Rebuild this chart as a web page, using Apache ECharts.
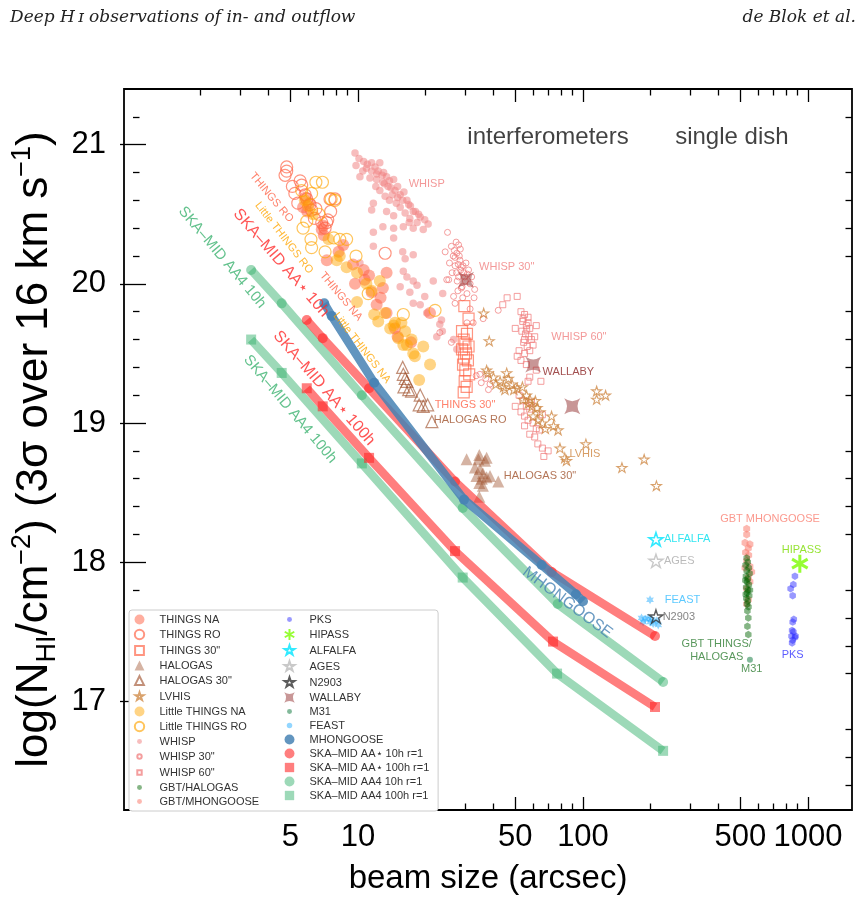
<!DOCTYPE html>
<html>
<head>
<meta charset="utf-8">
<script src="https://cdn.jsdelivr.net/npm/echarts@6/dist/echarts.min.js"></script>
<style>html,body{margin:0;background:#fff}#chart{width:868px;height:903px}</style>
</head>
<body>
<div id="chart"></div>
<script>
// beam size (arcsec) vs log N_HI
const thingsNA = [[5.7,20.55],[5.95,20.52],[6.1,20.58],[6.9,20.39],[7.05,20.35],[7.27,20.17],[8.2,20.23],[9.5,20.14],[10.6,20.1],[10.7,20.03],[9.7,20.0],[13.4,20.08],[12.9,19.97],[11.5,19.94],[13.4,19.79],[12.1,19.85],[14.6,19.68],[20.9,19.79],[11.2,20.06],[12.6,19.9],[8.6,20.28],[15.0,19.62],[17.2,19.58],[5.85,20.62],[7.0,20.42]];
const thingsRO = [[4.82,20.84],[4.82,20.81],[4.74,20.78],[5.53,20.74],[5.62,20.71],[5.11,20.7],[5.24,20.65],[5.82,20.64],[5.92,20.61],[6.12,20.57],[6.22,20.53],[6.5,20.54],[7.51,20.61],[7.9,20.61],[7.56,20.52],[7.34,20.46],[6.9,20.44],[7.26,20.44],[6.4,20.47],[7.14,20.4],[13.2,20.22],[5.4,20.58]];
const things30 = [[29.7,19.84],[31,19.75],[29,19.66],[30.5,19.64],[29.5,19.6],[30,19.57],[31,19.55],[29,19.53],[30.2,19.5],[29.6,19.47],[30.8,19.45],[29.3,19.42],[30,19.38],[31.2,19.35],[29.8,19.3],[30.4,19.26],[29.5,19.22]];
const halogas = [[30.4,18.74],[34.6,18.77],[34.3,18.74],[36.7,18.73],[37.3,18.75],[33.1,18.68],[34.8,18.67],[35.9,18.64],[33.6,18.62],[35.5,18.6],[37.3,18.61],[38.6,18.62],[34.6,18.57],[35.9,18.55],[42,18.58],[34.6,18.47]];
const halogas30 = [[15.8,19.4],[15.9,19.35],[16.2,19.32],[16.5,19.3],[16,19.26],[16.8,19.24],[17.3,19.23],[18.9,19.2],[18.7,19.13],[19.5,19.12],[20.4,19.13],[21.3,19.01]];
const lvhis = [[36.2,19.79],[38.3,19.59],[37.3,19.38],[37.9,19.36],[45.8,19.36],[46.6,19.32],[42.8,19.3],[44.4,19.26],[48.4,19.28],[49.3,19.24],[51,19.25],[53.8,19.26],[45,19.24],[56.1,19.2],[58.1,19.17],[54.2,19.17],[61.4,19.16],[59.3,19.12],[62.5,19.11],[64.4,19.08],[57,19.14],[60,19.05],[63,19.02],[66,19.0],[68,18.96],[72.5,19.05],[74,18.98],[77.5,18.95],[79,18.82],[83,18.75],[84.5,18.73],[103,18.85],[115,19.23],[115,19.17],[126,19.2],[149,18.68],[187,18.74],[212,18.55],[40,19.33],[41,19.28]];
const littleNA = [[5.8,20.6],[6.0,20.56],[6.3,20.5],[7.4,20.32],[8.05,20.17],[8.3,20.2],[8.9,20.12],[9.9,20.08],[10.9,20.0],[9.9,19.87],[11.5,19.95],[12.5,20.02],[11.8,19.78],[13.2,19.79],[12.3,19.73],[14.6,19.72],[13.9,19.68],[15.6,19.72],[14.4,19.7],[15.1,19.61],[16.2,19.66],[15.9,19.56],[17.3,19.6],[16.5,19.56],[17.6,19.5],[19.5,19.55],[17.9,19.48],[20.9,19.42],[18.7,19.31]];
const littleRO = [[6.5,20.73],[6.95,20.73],[6.22,20.65],[5.62,20.67],[7.6,20.61],[7.9,20.6],[5.92,20.45],[7.8,20.33],[6.18,20.32],[6.22,20.26],[7.14,20.23],[8.3,20.32],[8.9,20.32],[9.8,20.2],[11.1,19.93],[15.9,19.78],[22.0,19.81],[5.7,20.4],[6.7,20.5]];
const whisp = [[9.7,20.94],[10.6,20.88],[9.8,20.85],[11.5,20.87],[12.5,20.87],[10.9,20.83],[11.5,20.81],[12.1,20.79],[12.8,20.78],[10.2,20.77],[11.3,20.76],[12.1,20.75],[12.9,20.73],[13.4,20.77],[14.4,20.75],[13.6,20.7],[14.6,20.67],[15.4,20.64],[12.5,20.67],[13.2,20.63],[16.5,20.6],[16.8,20.57],[17.6,20.52],[15.4,20.55],[16.2,20.51],[18.9,20.48],[19.8,20.46],[17.0,20.47],[18.3,20.44],[11.7,20.58],[11.5,20.53],[13.4,20.52],[14.4,20.49],[12.9,20.41],[14.4,20.4],[15.9,20.41],[17.6,20.4],[19.5,20.39],[14.4,20.33],[11.7,20.27],[15.8,20.23],[16.2,20.18],[17.6,20.21],[15.9,20.09],[16.5,20.05],[17.6,20.02],[15.4,19.98],[17.0,19.94],[18.3,19.99],[19.8,19.91],[18.9,19.85],[20.2,19.79],[23.1,19.71],[23.7,19.66],[22.4,19.62],[26.6,19.6],[27.5,19.53],[11.7,20.37],[21.6,20.02],[23.8,19.93],[23.5,19.74],[17.6,19.86],[13.8,20.6],[15.0,20.7],[10.2,20.15],[10.1,20.9],[11.0,20.86],[11.9,20.84],[12.3,20.81],[13.0,20.8],[13.8,20.74],[14.0,20.69],[15.0,20.62],[15.8,20.6],[16.0,20.66],[17.1,20.56],[18.0,20.52],[18.6,20.5],[14.8,20.58],[12.0,20.7],[13.1,20.72],[16.9,20.44],[20.5,20.43],[10.5,20.81],[14.2,20.64]];
const whisp30 = [[26.0,20.27],[27.5,20.22],[28.4,20.17],[28.8,20.12],[29.5,20.08],[27.0,20.13],[28.0,20.05],[30.0,20.02],[29.0,19.98],[31.5,20.0],[27.8,19.95],[30.5,19.93],[26.5,20.2],[25.5,20.15],[31.0,20.1],[32.0,20.05],[33.0,19.96],[29.2,19.9],[27.3,20.3],[25.0,20.37],[24.4,20.23],[25.3,20.03],[26.6,19.91],[24.8,20.03],[27.0,19.86],[32.8,19.9],[42.0,19.81],[23.1,19.65],[26.0,19.58],[30.5,19.72],[32.5,19.72],[34.8,19.35],[37.0,19.32],[35.3,19.29],[38.6,19.28],[38.0,19.24],[33.5,19.34],[28.5,20.25],[30.2,20.15],[26.2,20.08],[31.5,19.82],[36,19.75],[27.0,20.19],[27.9,20.14],[28.6,20.1],[27.4,20.08],[28.2,20.2],[29.3,20.13],[26.8,20.24],[28.0,20.28],[29.8,20.05],[27.6,20.02],[28.8,19.97],[30.6,20.07]];
const whisp60 = [[53,19.8],[55,19.78],[57,19.76],[54,19.73],[56,19.7],[58,19.68],[53.5,19.66],[55.5,19.64],[57.5,19.62],[59,19.6],[54.5,19.58],[56.5,19.55],[52,19.52],[55,19.5],[58,19.52],[60,19.56],[53,19.45],[56,19.42],[51,19.48],[61,19.62],[62,19.7],[50,19.68],[58,19.33],[57,19.3],[52,19.2],[54,19.16],[56,19.12],[53,19.08],[55,19.05],[58,19.1],[57,19.02],[60,19.0],[62,18.96],[55,18.98],[58,18.92],[61,18.9],[64,18.95],[66,19.06],[50,19.12],[59,19.15],[63,18.85],[66,18.82],[67,18.76],[70,18.8],[46,19.9],[51,19.91],[44,19.85],[65,19.3],[62,19.38],[54.2,19.75],[56.2,19.67],[55.0,19.6],[57.0,19.72]];
const gbtHalogas = [[534,18.03],[540,18.0],[528,17.98],[545,17.96],[534,17.94],[550,17.92],[530,17.9],[540,17.88],[536,17.86],[546,17.84],[531,17.82],[541,17.8],[536,17.78],[548,17.76],[532,17.74],[540,17.72],[536,17.7],[544,17.68],[538,17.65],[543,17.6],[538,17.54],[543,17.48],[527,17.87],[552,17.8],[529,17.77]];
const gbtMhongoose = [[534,18.24],[534,18.2],[525,18.14],[552,18.13],[543,18.1],[534,18.01],[552,17.97],[525,17.96],[562,17.93],[543,17.89],[552,17.86],[534,17.81],[543,17.73],[534,17.7],[545,18.05],[528,18.07]];
const pks = [[875,17.9],[861,17.84],[837,17.81],[855,17.76],[865,17.59],[855,17.57],[850,17.51],[861,17.5],[845,17.47],[875,17.46],[855,17.44],[880,17.47],[850,17.42]];
const hipass = [[920,17.99]];
const alfalfa = [[211,18.165]];
const ages = [[211,18.01]];
const n2903 = [[211,17.61]];
const wallaby = [[30.2,20.03],[60.1,19.42],[89.6,19.12]];
const m31 = [[552,17.3]];
const feast = [[198.6,17.73],[182,17.6],[189,17.59],[195,17.6],[199,17.57],[205,17.56],[213,17.58],[216,17.55],[185,17.57],[202,17.59]];
const mhongoose = [[7.08,19.86],[7.64,19.77],[11.8,19.29],[29.6,18.45],[65.5,17.98],[93,17.77],[100,17.72]];
const skaAAs10 = [[5.92,19.74],[6.97,19.61],[11.2,19.25],[27.0,18.58],[72.6,17.93],[209,17.47]];
const skaAAs100 = [[5.92,19.25],[6.97,19.12],[11.2,18.75],[27.0,18.08],[73.6,17.43],[209,16.96]];
const skaAA4_10 = [[3.35,20.10],[4.58,19.86],[10.4,19.2],[29.2,18.39],[77.2,17.70],[227,17.14]];
const skaAA4_100 = [[3.35,19.60],[4.58,19.36],[10.4,18.71],[29.2,17.89],[76.7,17.20],[227,16.645]];

const xMajor = [5, 10, 50, 100, 500, 1000];
const xMinor = [2, 3, 4, 6, 7, 8, 9, 20, 30, 40, 60, 70, 80, 90, 200, 300, 400, 600, 700, 800, 900];
const yMajor = [17, 18, 19, 20, 21];
const yMinor = [16.4, 16.6, 16.8, 17.2, 17.4, 17.6, 17.8, 18.2, 18.4, 18.6, 18.8, 19.2, 19.4, 19.6, 19.8, 20.2, 20.4, 20.6, 20.8, 21.2];

// in-plot labels: text, x, y, colour, rotation, size, align
const notes = [
  ['SKA–MID AA4 10h', 2.49, 20.19, '#3cb371', -50, 15],
  ['SKA–MID AA⋆ 10h', 4.55, 20.15, '#ff2a2a', -49, 16],
  ['SKA–MID AA⋆ 100h', 7.06, 19.25, '#ff2a2a', -49, 16],
  ['SKA–MID AA4 100h', 4.99, 19.10, '#3cb371', -50, 15],
  ['MHONGOOSE', 85.3, 17.71, '#4682b4', -37, 16],
  ['THINGS RO', 4.13, 20.62, '#ff6347', -50, 11],
  ['Little THINGS RO', 4.69, 20.33, '#ffa500', -52, 11],
  ['THINGS NA', 8.4, 19.91, '#ff6347', -50, 11],
  ['Little THINGS NA', 10.4, 19.54, '#ffa500', -52, 11],
  ['WHISP', 20.2, 20.72, '#f08080', 0, 11],
  ['WHISP 30"', 45.8, 20.12, '#f08080', 0, 11],
  ['WHISP 60"', 95.9, 19.62, '#f08080', 0, 11],
  ['WALLABY', 86.1, 19.37, '#8b2323', 0, 11],
  ['THINGS 30"', 29.9, 19.13, '#ff6347', 0, 11],
  ['HALOGAS RO', 31.5, 19.025, '#a0522d', 0, 11],
  ['LVHIS', 102, 18.775, '#cd853f', 0, 11],
  ['HALOGAS 30"', 64.4, 18.62, '#a0522d', 0, 11],
  ['ALFALFA', 229, 18.165, '#00e0ee', 0, 11, 'left'],
  ['AGES', 229, 18.01, '#aaaaaa', 0, 11, 'left'],
  ['FEAST', 231, 17.73, '#33bbff', 0, 11, 'left'],
  ['N2903', 226, 17.61, '#666666', 0, 11, 'left'],
  ['GBT MHONGOOSE', 678, 18.31, '#fa8072', 0, 11],
  ['GBT THINGS/\nHALOGAS', 393, 17.364, '#2e7d32', 0, 11],
  ['M31', 562, 17.233, '#2e7d32', 0, 11],
  ['HIPASS', 937, 18.086, '#7cdc00', 0, 11],
  ['PKS', 855, 17.335, '#3333ff', 0, 11],
  ['interferometers', 69.9, 21.05, '#111', 0, 24],
  ['single dish', 459, 21.05, '#111', 0, 24]
];

const FONT = 'Liberation Sans, Arial, Helvetica, sans-serif';
const X_MIN = 0.912, X_MAX = 1569, Y_MIN = 16.22, Y_MAX = 21.4;
const lg = Math.log10;

const STAR_D = 'M0,-10L2.245,-3.09L9.51,-3.09L3.633,1.18L5.88,8.09L0,3.82L-5.88,8.09L-3.633,1.18L-9.51,-3.09L-2.245,-3.09Z';
const STAR6_D = 'M0,-10L2.75,-4.76L8.66,-5L5.5,0L8.66,5L2.75,4.76L0,10L-2.75,4.76L-8.66,5L-5.5,0L-8.66,-5L-2.75,-4.76Z';
const XSTAR_D = 'M-10,-10Q0,-3 10,-10Q3,0 10,10Q0,3 -10,10Q-3,0 -10,-10Z';
const ASTER_D = 'M0,-10L0,10M-8.66,-5L8.66,5M-8.66,5L8.66,-5';
const HEX_D = 'M0,-10L8.66,-5L8.66,5L0,10L-8.66,5L-8.66,-5Z';
const STAR = 'path://' + STAR_D, STAR6 = 'path://' + STAR6_D, XSTAR = 'path://' + XSTAR_D;
const ASTER = 'path://' + ASTER_D, HEX = 'path://' + HEX_D;

// legend icons: empty corner points fix the icon box so the drawn shape keeps its own size
const pad = (d, k) => `path://M${-k},${-k}M${k},${k}` + d;
const dot = r => pad(`M${-r},0A${r},${r} 0 1,0 ${r},0A${r},${r} 0 1,0 ${-r},0Z`, 10);
const box = r => pad(`M${-r},${-r}L${r},${-r}L${r},${r}L${-r},${r}Z`, 10);
const tri = r => pad(`M0,${-r}L${r},${r}L${-r},${r}Z`, 10);

const hollow = (c, w) => ({ color: 'rgba(255,255,255,0)', borderColor: c, borderWidth: w || 1.2 });
function pts(name, data, symbol, size, itemStyle, z) {
  return { type: 'scatter', name, data, symbol, symbolSize: size, symbolKeepAspect: true, itemStyle, z: z || 2 };
}
function track(name, data, symbol, color, z) {
  return { type: 'line', name, data, symbol, symbolSize: 10, showSymbol: true,
    lineStyle: { color, width: 8.5 }, itemStyle: { color }, z: z || 3 };
}

const series = [
  pts('WHISP', whisp, 'circle', 7.5, { color: 'rgba(240,128,128,0.65)' }),
  pts('WHISP 30"', whisp30, 'circle', 6, hollow('rgba(240,128,128,0.95)', 1)),
  pts('WHISP 60"', whisp60, 'rect', 6, hollow('rgba(240,128,128,0.95)', 1)),
  pts('THINGS NA', thingsNA, 'circle', 12, { color: 'rgba(255,99,71,0.65)' }),
  pts('THINGS RO', thingsRO, 'circle', 12, hollow('rgba(255,99,71,0.85)')),
  pts('THINGS 30"', things30, 'rect', 11, hollow('rgba(255,99,71,0.85)')),
  pts('Little THINGS NA', littleNA, 'circle', 12, { color: 'rgba(255,165,0,0.6)' }),
  pts('Little THINGS RO', littleRO, 'circle', 12, hollow('rgba(255,165,0,0.8)')),
  pts('HALOGAS', halogas, 'triangle', 12, { color: 'rgba(160,82,45,0.55)' }),
  pts('HALOGAS 30"', halogas30, 'triangle', 12, hollow('rgba(160,82,45,0.8)')),
  pts('LVHIS', lvhis, STAR, 10, hollow('rgba(205,133,63,0.95)', 1.1)),
  pts('GBT/MHONGOOSE', gbtMhongoose, HEX, 8, { color: 'rgba(250,128,114,0.7)' }),
  pts('GBT/HALOGAS', gbtHalogas, HEX, 7.5, { color: 'rgba(0,100,0,0.6)' }),
  pts('PKS', pks, HEX, 7.5, { color: 'rgba(40,40,255,0.6)' }),
  pts('HIPASS', hipass, ASTER, 18, hollow('#7cfc00', 3)),
  pts('FEAST', feast, STAR6, 9, { color: 'rgba(30,170,255,0.6)' }),
  pts('ALFALFA', alfalfa, STAR, 14, hollow('#00e5ff', 1.6)),
  pts('AGES', ages, STAR, 14, hollow('#bbbbbb', 1.4)),
  pts('N2903', n2903, STAR, 14, hollow('#333333', 1.4), 4),
  pts('WALLABY', wallaby, XSTAR, 16, { color: 'rgba(139,35,35,0.6)' }),
  pts('M31', m31, 'circle', 6, { color: 'rgba(46,139,87,0.75)' }),
  track('SKA–MID AA4 10h r=1', skaAA4_10, 'circle', 'rgba(60,179,113,0.5)'),
  track('SKA–MID AA4 100h r=1', skaAA4_100, 'rect', 'rgba(60,179,113,0.5)'),
  track('SKA–MID AA⋆ 10h r=1', skaAAs10, 'circle', 'rgba(255,40,40,0.6)'),
  track('SKA–MID AA⋆ 100h r=1', skaAAs100, 'rect', 'rgba(255,40,40,0.6)'),
  track('MHONGOOSE', mhongoose, 'circle', 'rgba(70,130,180,0.85)', 4),
  { type: 'scatter', name: 'notes', silent: true, z: 10, symbolSize: 1,
    itemStyle: { color: 'rgba(0,0,0,0)' },
    label: { show: true, position: 'inside', fontFamily: FONT },
    data: notes.map(n => ({ value: [n[1], n[2]],
      label: { formatter: n[0], color: n[3], rotate: n[4], fontSize: n[5], align: n[6] || 'center', lineHeight: n[5] + 2 } })) }
];

const leftNames = ['THINGS NA', 'THINGS RO', 'THINGS 30"', 'HALOGAS', 'HALOGAS 30"', 'LVHIS', 'Little THINGS NA', 'Little THINGS RO', 'WHISP', 'WHISP 30"', 'WHISP 60"', 'GBT/HALOGAS', 'GBT/MHONGOOSE'];
const rightNames = ['PKS', 'HIPASS', 'ALFALFA', 'AGES', 'N2903', 'WALLABY', 'M31', 'FEAST', 'MHONGOOSE', 'SKA–MID AA⋆ 10h r=1', 'SKA–MID AA⋆ 100h r=1', 'SKA–MID AA4 10h r=1', 'SKA–MID AA4 100h r=1'];
const legendIcons = {
  'THINGS NA': dot(9), 'THINGS RO': dot(8.5), 'THINGS 30"': box(8), 'HALOGAS': tri(9), 'HALOGAS 30"': tri(8),
  'LVHIS': pad(STAR_D, 13), 'Little THINGS NA': dot(9), 'Little THINGS RO': dot(8.5),
  'WHISP': dot(4.5), 'WHISP 30"': dot(4), 'WHISP 60"': box(4), 'GBT/HALOGAS': dot(4.5), 'GBT/MHONGOOSE': dot(4.5),
  'PKS': dot(4.5), 'HIPASS': pad(ASTER_D, 9.5), 'ALFALFA': pad(STAR_D, 10.5), 'AGES': pad(STAR_D, 10.5),
  'N2903': pad(STAR_D, 10.5), 'WALLABY': pad(XSTAR_D, 10.5), 'M31': dot(4.5), 'FEAST': dot(5),
  'MHONGOOSE': dot(9), 'SKA–MID AA⋆ 10h r=1': dot(9), 'SKA–MID AA⋆ 100h r=1': box(8.5),
  'SKA–MID AA4 10h r=1': dot(9), 'SKA–MID AA4 100h r=1': box(8.5)
};
const legendItem = n => ({ name: n, icon: legendIcons[n] });
const legendBase = { orient: 'vertical', top: 610, itemWidth: 24, itemHeight: 11, itemGap: 3, selectedMode: false,
  textStyle: { fontSize: 11, color: '#333', fontFamily: FONT, padding: [0, 0, 0, 3] } };

function xTicks(pos, vals, len, labels) {
  return { type: 'value', position: pos, min: lg(X_MIN), max: lg(X_MAX), gridIndex: 0,
    axisLine: { show: false }, splitLine: { show: false },
    axisTick: { show: true, inside: true, length: len, customValues: vals.map(lg), lineStyle: { color: '#000', width: 1.3 } },
    axisLabel: { show: labels, customValues: vals.map(lg), margin: 12, fontSize: 31, color: '#000', fontFamily: FONT,
      formatter: v => String(Math.round(Math.pow(10, v))) } };
}
function yTicks(pos, vals, len, labels) {
  return { type: 'value', position: pos, min: Y_MIN, max: Y_MAX, gridIndex: 0,
    axisLine: { show: false }, splitLine: { show: false },
    axisTick: { show: true, inside: true, length: len, customValues: vals, lineStyle: { color: '#000', width: 1.3 } },
    axisLabel: { show: labels, customValues: vals, margin: 18, fontSize: 31, color: '#000', fontFamily: FONT,
      formatter: v => String(Math.round(v)) } };
}

const xBottom = xTicks('bottom', xMajor, 13, true);
xBottom.name = 'beam size (arcsec)';
xBottom.nameLocation = 'middle';
xBottom.nameGap = 52;
xBottom.nameTextStyle = { fontSize: 33, color: '#000', fontFamily: FONT };

const yLeft = yTicks('left', yMajor, 13, true);
const sub = { fontSize: 27, verticalAlign: 'bottom', fontFamily: FONT, color: '#000' };
const sup = { fontSize: 27, verticalAlign: 'top', fontFamily: FONT, color: '#000' };
yLeft.name = '{n|log(N}{sub|HI}{n|/cm}{sup|−2}{n|) (3σ over 16 km s}{sup|−1}{n|)}';
yLeft.nameLocation = 'middle';
yLeft.nameRotate = 90;
yLeft.nameGap = 60;
yLeft.nameTextStyle = { fontSize: 44, color: '#000', fontFamily: FONT,
  rich: { n: { fontSize: 44, fontFamily: FONT, color: '#000', lineHeight: 52 }, sub, sup } };

const serif = { fontFamily: 'DejaVu Serif, Liberation Serif, serif', fontStyle: 'italic', fontWeight: 'normal', fontSize: 17, color: '#222' };
const option = {
  animation: false,
  title: [
    { text: 'Deep H\u2009ɪ observations of in- and outflow', left: 5, top: 4, textStyle: serif },
    { text: 'de Blok et al.', right: 7, top: 4, textStyle: serif }
  ],
  grid: { left: 124, right: 16, top: 89, bottom: 93, show: true, borderColor: '#000', borderWidth: 1.8, backgroundColor: 'rgba(0,0,0,0)' },
  xAxis: [
    { type: 'log', logBase: 10, min: X_MIN, max: X_MAX, axisLine: { show: false }, axisTick: { show: false },
      axisLabel: { show: false }, splitLine: { show: false } },
    xBottom, xTicks('bottom', xMinor, 6.5, false), xTicks('top', xMajor, 13, false), xTicks('top', xMinor, 6.5, false)
  ],
  yAxis: [
    { type: 'value', min: Y_MIN, max: Y_MAX, axisLine: { show: false }, axisTick: { show: false },
      axisLabel: { show: false }, splitLine: { show: false } },
    yLeft, yTicks('left', yMinor, 6.5, false), yTicks('right', yMajor, 13, false), yTicks('right', yMinor, 6.5, false)
  ],
  legend: [
    Object.assign({}, legendBase, { data: leftNames.map(legendItem), left: 129, padding: [4, 179, 4, 4],
      backgroundColor: '#fff', borderColor: '#cccccc', borderWidth: 1, borderRadius: 3 }),
    Object.assign({}, legendBase, { data: rightNames.map(legendItem), left: 283, padding: [4, 0, 4, 0], z: 6 })
  ],
  series: series.map(s => Object.assign({ xAxisIndex: 0, yAxisIndex: 0, emphasis: { disabled: true } }, s))
};

const chart = echarts.init(document.getElementById('chart'), null, { renderer: 'canvas' });
chart.setOption(option);
</script>
</body>
</html>
